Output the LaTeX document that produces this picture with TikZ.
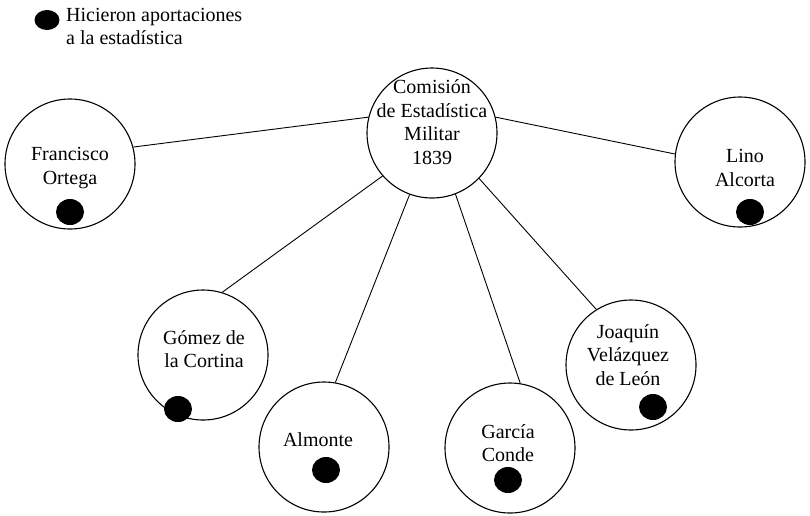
\documentclass[tikz,border=0pt]{standalone}
\usepackage{fontspec}
\setmainfont{Liberation Serif}
\usetikzlibrary{shapes.geometric}
\begin{document}
\begin{tikzpicture}[x=1pt,y=-1pt,
  circ/.style={draw, circle, minimum size=130pt, inner sep=0pt, line width=1.1pt},
  lbl/.style={align=center, font=\fontsize{20}{23.5}\selectfont, inner sep=0pt},
  dotmark/.style={fill=black, ellipse, minimum width=28pt, minimum height=26pt, inner sep=0pt},
  link/.style={line width=0.9pt}]
\useasboundingbox (0,0) rectangle (810,515);
% legend
\node[dotmark, minimum width=25pt, minimum height=20pt] (legdot) at (47,20) {};
\node[lbl, align=left, anchor=north west] (legtxt) at (66,8) {Hicieron aportaciones\\a la estadística};
% center
\node[circ] (c) at (432,133) {};
\node[lbl] (ct) at (432,122) {Comisión\\de Estadística\\Militar\\1839};
% Francisco Ortega
\node[circ] (fo) at (70,164) {};
\node[lbl] (fot) at (70,168) {Francisco\\Ortega};
\node[dotmark] (fod) at (70,212) {};
% Lino Alcorta
\node[circ] (la) at (740,162) {};
\node[lbl] (lat) at (745,168) {Lino\\Alcorta};
\node[dotmark] (lad) at (750,212) {};
% Gomez de la Cortina
\node[circ] (gc) at (203,355) {};
\node[lbl] (gct) at (204,349) {Gómez de\\la Cortina};
\node[dotmark] (gcd) at (178,409) {};
% Almonte
\node[circ] (al) at (324,447) {};
\node[lbl] (alt) at (318,440) {Almonte};
\node[dotmark] (ald) at (326,470) {};
% Garcia Conde
\node[circ] (gd) at (510,448) {};
\node[lbl] (gdt) at (508,443) {García\\Conde};
\node[dotmark] (gdd) at (508,480) {};
% Joaquin Velazquez de Leon
\node[circ] (jv) at (631,365) {};
\node[lbl] (jvt) at (628,355) {Joaquín\\Velázquez\\de León};
\node[dotmark] (jvd) at (653,407) {};
% connectors
\draw[link] (c.166) -- (fo.15);
\draw[link] (c.14) -- (la.173);
\draw[link] (c.221) -- (gc.73);
\draw[link] (c.250) -- (al.80);
\draw[link] (c.291) -- (gd.81);
\draw[link] (c.316) -- (jv.122);
\end{tikzpicture}
\end{document}
